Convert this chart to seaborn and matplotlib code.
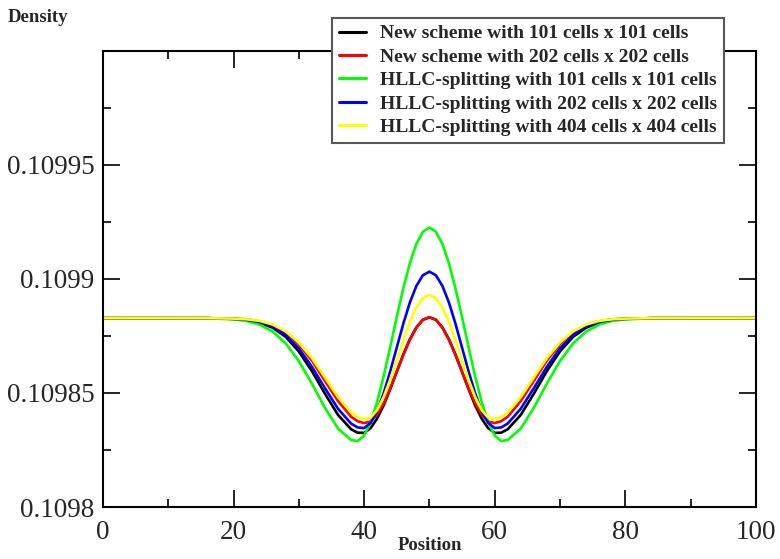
import matplotlib
matplotlib.use("Agg")
import matplotlib.pyplot as plt
import seaborn as sns
import pandas as pd
from matplotlib.ticker import MultipleLocator, FixedLocator, FormatStrFormatter

# posiciones (eje x)
position = [0, 10, 16, 20, 22, 24, 26, 28, 30, 32, 34, 36, 38, 39, 40, 41, 42, 43, 44, 45,
            46, 47, 48, 49, 50, 51, 52, 53, 54, 55, 56, 57, 58, 59, 60, 61, 62, 64, 66,
            68, 70, 72, 74, 76, 78, 80, 84, 90, 100]

new_101 = [0.1098828, 0.1098828, 0.1098828, 0.1098825, 0.1098820, 0.1098809, 0.1098786,
           0.1098746, 0.1098682, 0.1098596, 0.1098497, 0.1098404, 0.1098341, 0.1098326,
           0.1098325, 0.1098346, 0.1098388, 0.1098446, 0.1098517, 0.1098593, 0.1098668,
           0.1098735, 0.1098787, 0.1098821, 0.1098832,
           0.1098821, 0.1098787, 0.1098735, 0.1098668, 0.1098593, 0.1098517, 0.1098446,
           0.1098388, 0.1098346, 0.1098325, 0.1098326, 0.1098341, 0.1098404, 0.1098497,
           0.1098596, 0.1098682, 0.1098746, 0.1098786, 0.1098809, 0.1098820, 0.1098825,
           0.1098828, 0.1098828, 0.1098828]

new_202 = [0.1098828, 0.1098828, 0.1098828, 0.1098826, 0.1098823, 0.1098814, 0.1098797,
           0.1098766, 0.1098714, 0.1098642, 0.1098553, 0.1098465, 0.1098396, 0.1098376,
           0.1098368, 0.1098375, 0.1098405, 0.1098455, 0.1098520, 0.1098593, 0.1098666,
           0.1098733, 0.1098786, 0.1098821, 0.1098832,
           0.1098821, 0.1098786, 0.1098733, 0.1098666, 0.1098593, 0.1098520, 0.1098455,
           0.1098405, 0.1098375, 0.1098368, 0.1098376, 0.1098396, 0.1098465, 0.1098553,
           0.1098642, 0.1098714, 0.1098766, 0.1098797, 0.1098814, 0.1098823, 0.1098826,
           0.1098828, 0.1098828, 0.1098828]

hllc_101 = [0.1098828, 0.1098828, 0.1098827, 0.1098823, 0.1098816, 0.1098800, 0.1098769,
            0.1098717, 0.1098640, 0.1098541, 0.1098435, 0.1098344, 0.1098294, 0.1098289,
            0.1098313, 0.1098372, 0.1098461, 0.1098574, 0.1098701, 0.1098833, 0.1098958,
            0.1099068, 0.1099153, 0.1099207, 0.1099225,
            0.1099207, 0.1099153, 0.1099068, 0.1098958, 0.1098833, 0.1098701, 0.1098574,
            0.1098461, 0.1098372, 0.1098313, 0.1098289, 0.1098294, 0.1098344, 0.1098435,
            0.1098541, 0.1098640, 0.1098717, 0.1098769, 0.1098800, 0.1098816, 0.1098823,
            0.1098827, 0.1098828, 0.1098828]

hllc_202 = [0.1098828, 0.1098828, 0.1098828, 0.1098825, 0.1098821, 0.1098811, 0.1098791,
            0.1098754, 0.1098696, 0.1098615, 0.1098521, 0.1098431, 0.1098366, 0.1098349,
            0.1098346, 0.1098369, 0.1098421, 0.1098499, 0.1098595, 0.1098699, 0.1098803,
            0.1098896, 0.1098969, 0.1099016, 0.1099032,
            0.1099016, 0.1098969, 0.1098896, 0.1098803, 0.1098699, 0.1098595, 0.1098499,
            0.1098421, 0.1098369, 0.1098346, 0.1098349, 0.1098366, 0.1098431, 0.1098521,
            0.1098615, 0.1098696, 0.1098754, 0.1098791, 0.1098811, 0.1098821, 0.1098825,
            0.1098828, 0.1098828, 0.1098828]

hllc_404 = [0.1098828, 0.1098828, 0.1098828, 0.1098826, 0.1098823, 0.1098816, 0.1098800,
            0.1098770, 0.1098721, 0.1098653, 0.1098568, 0.1098482, 0.1098415, 0.1098395,
            0.1098385, 0.1098392, 0.1098425, 0.1098483, 0.1098558, 0.1098644, 0.1098732,
            0.1098811, 0.1098875, 0.1098916, 0.1098930,
            0.1098916, 0.1098875, 0.1098811, 0.1098732, 0.1098644, 0.1098558, 0.1098483,
            0.1098425, 0.1098392, 0.1098385, 0.1098395, 0.1098415, 0.1098482, 0.1098568,
            0.1098653, 0.1098721, 0.1098770, 0.1098800, 0.1098816, 0.1098823, 0.1098826,
            0.1098828, 0.1098828, 0.1098828]

labels = ["New scheme with 101 cells x 101 cells",
          "New scheme with 202 cells x 202 cells",
          "HLLC-splitting with 101 cells x 101 cells",
          "HLLC-splitting with 202 cells x 202 cells",
          "HLLC-splitting with 404 cells x 404 cells"]
colores = ["#000000", "#ff0000", "#00ff00", "#0000ff", "#ffff00"]

series = [new_101, new_202, hllc_101, hllc_202, hllc_404]
frames = []
for lab, vals in zip(labels, series):
    frames.append(pd.DataFrame({"Position": position, "Density": vals, "serie": lab}))
df = pd.concat(frames, ignore_index=True)

sns.set_style("ticks")
plt.rcParams["font.family"] = ["Liberation Serif", "DejaVu Serif"]

fig = plt.figure(figsize=(7.8, 5.59), dpi=100)
ax = fig.add_axes([0.132, 0.093, 0.837, 0.816])

sns.lineplot(data=df, x="Position", y="Density", hue="serie", hue_order=labels,
             palette=colores, linewidth=1.9, ax=ax, sort=False, legend=False)

ax.set_xlim(0, 100)
ax.set_ylim(0.1098, 0.11)
ax.xaxis.set_major_locator(MultipleLocator(20))
ax.xaxis.set_minor_locator(MultipleLocator(10))
ax.yaxis.set_major_locator(FixedLocator([0.1098, 0.10985, 0.1099, 0.10995]))
ax.yaxis.set_minor_locator(FixedLocator([0.109825, 0.109875, 0.109925, 0.109975]))
ax.yaxis.set_major_formatter(FormatStrFormatter("%g"))
ax.tick_params(which="both", direction="in", top=True, right=True, width=1.2, color="black")
ax.tick_params(which="major", length=12, labelsize=19.5, pad=6)
ax.tick_params(axis="x", which="major", pad=9)
ax.tick_params(which="minor", length=6)
for sp in ax.spines.values():
    sp.set_linewidth(1.5)
    sp.set_color("black")
ax.set_xlabel("")
ax.set_ylabel("")

fig.text(8 / 780, 1 - 18 / 559, "Density", fontsize=13.5, fontweight="bold", va="center", ha="left")
fig.text(429.5 / 780, 1 - 546 / 559, "Position", fontsize=13.5, fontweight="bold", va="center", ha="center")

handles = [plt.Line2D([], [], color=c, linewidth=2.2) for c in colores]
leg = ax.legend(handles, labels, loc="upper left", bbox_to_anchor=(332 / 780, 1 - 18 / 559),
                bbox_transform=fig.transFigure, frameon=True, fancybox=False,
                prop={"size": 14, "weight": "bold"}, labelspacing=0.3,
                handlelength=1.4, handletextpad=0.7, borderpad=0.35, borderaxespad=0)
leg.get_frame().set_edgecolor("0.35")
leg.get_frame().set_linewidth(1.5)
leg.get_frame().set_alpha(1)

plt.savefig("out.png", dpi=100)
plt.close()
